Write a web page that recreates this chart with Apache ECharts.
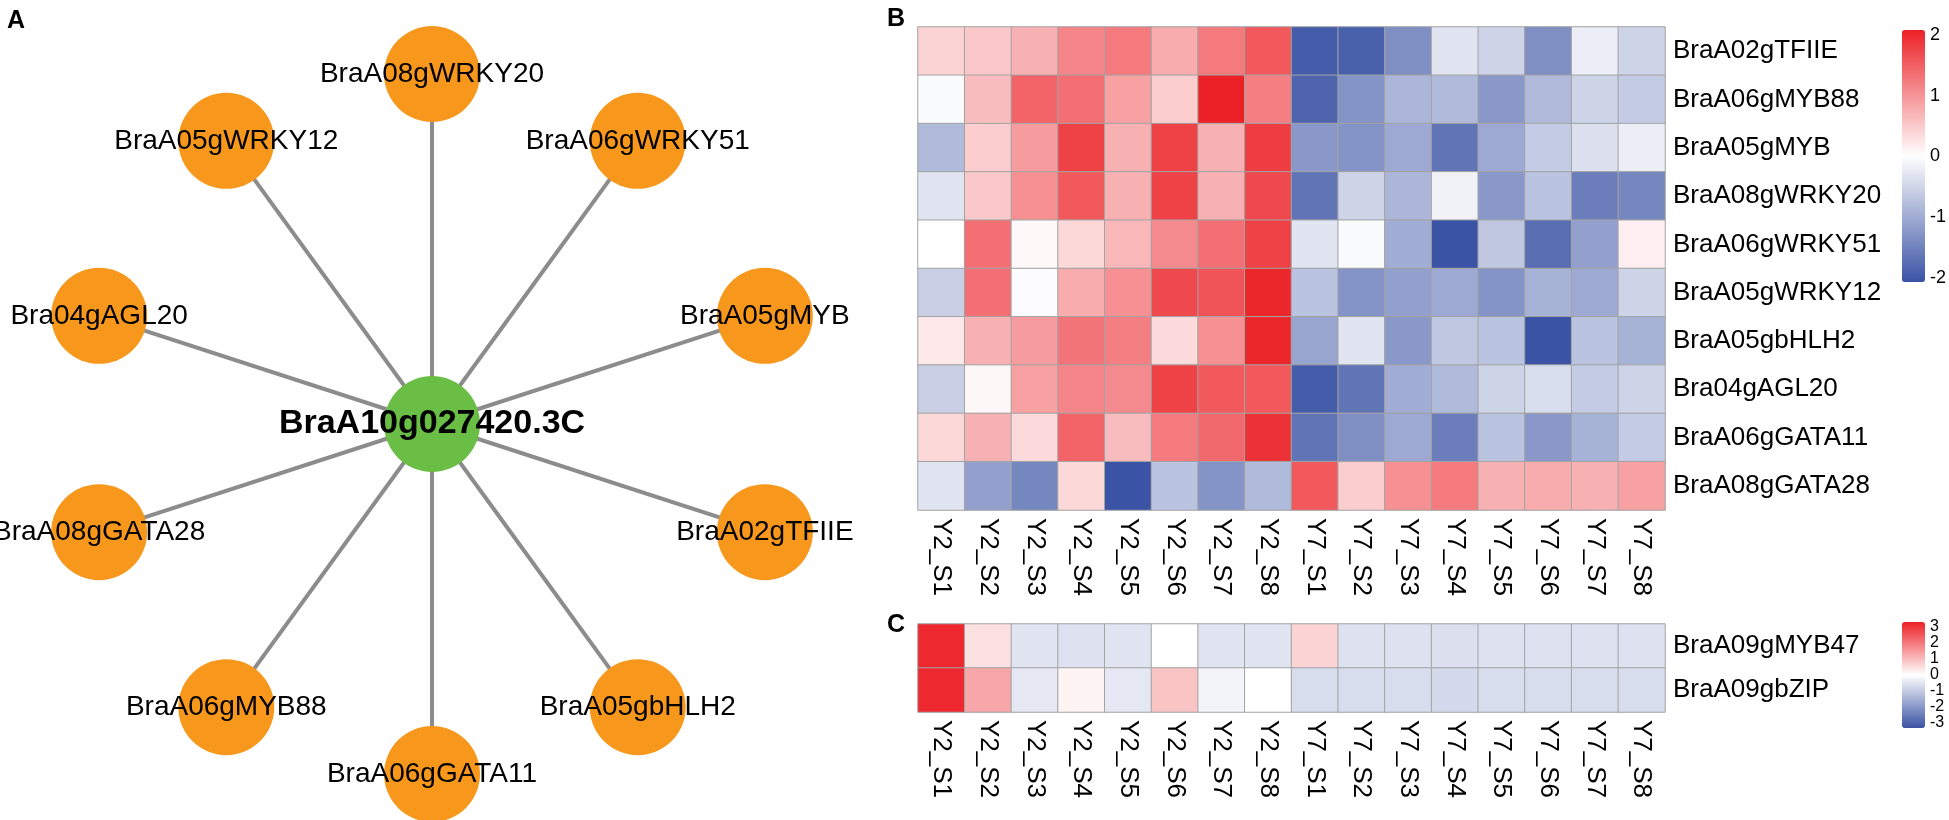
<!DOCTYPE html>
<html><head><meta charset="utf-8">
<script src="https://cdn.jsdelivr.net/npm/echarts@6/dist/echarts.min.js"></script>
<style>html,body{margin:0;padding:0;background:#fff}#c{width:1949px;height:820px}</style>
</head><body><div id="c"></div>
<script>
// ---------- Panel A: network ----------
const hubName = 'BraA10g027420.3C';
const leafNames = ['BraA08gWRKY20','BraA05gWRKY12','Bra04gAGL20','BraA08gGATA28','BraA06gMYB88','BraA06gGATA11','BraA05gbHLH2','BraA02gTFIIE','BraA05gMYB','BraA06gWRKY51'];
const leafAngles = [90,126,162,198,234,270,306,342,18,54];   // degrees, counter-clockwise from 3 o'clock
const leafRadius = [1,1,1,1,1,1,1,1,1,1];

// ---------- Panel B: heatmap ----------
const colLabels = ['Y2_S1','Y2_S2','Y2_S3','Y2_S4','Y2_S5','Y2_S6','Y2_S7','Y2_S8','Y7_S1','Y7_S2','Y7_S3','Y7_S4','Y7_S5','Y7_S6','Y7_S7','Y7_S8'];
const rowsB = ['BraA02gTFIIE','BraA06gMYB88','BraA05gMYB','BraA08gWRKY20','BraA06gWRKY51','BraA05gWRKY12','BraA05gbHLH2','Bra04gAGL20','BraA06gGATA11','BraA08gGATA28'];
const vTFIIE  = [0.40,0.50,0.70,1.10,1.20,0.75,1.20,1.50,-1.90,-1.85,-1.30,-0.30,-0.50,-1.30,-0.20,-0.50];
const vMYB88  = [-0.05,0.60,1.40,1.30,0.85,0.45,2.00,1.15,-1.80,-1.25,-0.85,-0.80,-1.20,-0.80,-0.50,-0.60];
const vMYB    = [-0.80,0.45,0.90,1.70,0.70,1.70,0.70,1.75,-1.20,-1.25,-1.00,-1.60,-1.00,-0.60,-0.35,-0.20];
const vWRKY20 = [-0.30,0.50,1.00,1.50,0.70,1.70,0.70,1.65,-1.60,-0.50,-0.85,-0.15,-1.20,-0.70,-1.50,-1.40];
const vWRKY51 = [0.00,1.30,0.05,0.35,0.65,1.05,1.30,1.70,-0.30,-0.05,-0.95,-2.00,-0.65,-1.70,-1.10,0.15];
const vWRKY12 = [-0.55,1.30,-0.03,0.75,1.00,1.65,1.55,1.95,-0.70,-1.25,-1.10,-1.00,-1.25,-0.90,-1.00,-0.50];
const vbHLH2  = [0.20,0.70,0.90,1.25,1.15,0.32,1.00,1.95,-1.05,-0.30,-1.20,-0.65,-0.70,-2.00,-0.70,-0.90];
const vAGL20  = [-0.55,0.07,0.85,1.10,1.05,1.70,1.50,1.50,-1.90,-1.60,-0.95,-0.80,-0.50,-0.40,-0.60,-0.50];
const vGATA11 = [0.35,0.70,0.33,1.40,0.60,1.20,1.35,1.85,-1.60,-1.30,-1.00,-1.50,-0.70,-1.20,-0.90,-0.60];
const vGATA28 = [-0.30,-1.10,-1.40,0.35,-2.00,-0.70,-1.25,-0.80,1.50,0.45,1.00,1.20,0.70,0.75,0.70,0.85];
const valuesB = [vTFIIE,vMYB88,vMYB,vWRKY20,vWRKY51,vWRKY12,vbHLH2,vAGL20,vGATA11,vGATA28];

// ---------- Panel C: heatmap ----------
const rowsC = ['BraA09gMYB47','BraA09gbZIP'];
const vMYB47 = [2.90,0.40,-0.45,-0.50,-0.45,0.00,-0.45,-0.45,0.60,-0.50,-0.50,-0.55,-0.50,-0.50,-0.50,-0.50];
const vbZIP  = [2.90,1.20,-0.40,0.15,-0.40,0.80,-0.20,0.00,-0.60,-0.60,-0.60,-0.65,-0.60,-0.60,-0.60,-0.60];
const valuesC = [vMYB47, vbZIP];

// colour-bar tick settings
const ticksB = {min:-2, max:2, interval:1};
const ticksC = {min:-3, max:3, interval:1};

const FONT = "'Liberation Sans', Arial, Helvetica, sans-serif";
const BLUE = '#3A53A4', WHITE = '#FFFFFF', RED = '#EC2127';

function cells(vals){
  const out = [];
  vals.forEach((row, r) => row.forEach((v, c) => out.push([c, r, v])));
  return out;
}

const nodes = [{name: hubName, value: [0, 0], symbolSize: 96,
  itemStyle: {color: '#6ABD45'},
  label: {fontSize: 34, fontWeight: 'bold'}}];
leafNames.forEach((n, i) => nodes.push({name: n, value: [leafRadius[i], leafAngles[i]], symbolSize: 96,
  itemStyle: {color: '#F7981D'}}));
const links = leafNames.map(n => ({source: hubName, target: n}));

const chart = echarts.init(document.getElementById('c'), null, {renderer: 'canvas'});
chart.setOption({
  animation: false,
  backgroundColor: '#fff',
  textStyle: {fontFamily: FONT},
  title: [
    {text: 'A', left: 2, top: 4, textStyle: {fontSize: 25, fontWeight: 'bold', color: '#000', fontFamily: FONT}},
    {text: 'B', left: 882, top: 2, textStyle: {fontSize: 25, fontWeight: 'bold', color: '#000', fontFamily: FONT}},
    {text: 'C', left: 882, top: 608, textStyle: {fontSize: 25, fontWeight: 'bold', color: '#000', fontFamily: FONT}}
  ],
  polar: {center: [432, 424], radius: 350},
  angleAxis: {type: 'value', min: 0, max: 360, startAngle: 0, clockwise: false, show: false},
  radiusAxis: {type: 'value', min: 0, max: 1, show: false},
  grid: [
    {left: 918, top: 27, width: 747, height: 483},
    {left: 918, top: 624, width: 747, height: 88},
    {left: 1902, top: 627, width: 23, height: 96},
    {left: 1902, top: 35, width: 23, height: 243}
  ],
  xAxis: [
    {type: 'category', gridIndex: 0, data: colLabels, position: 'bottom',
     axisLine: {show: false}, axisTick: {show: false}, splitLine: {show: false},
     axisLabel: {rotate: -90, fontSize: 26, color: '#000', margin: 8, interval: 0, fontFamily: FONT}},
    {type: 'category', gridIndex: 1, data: colLabels, position: 'bottom',
     axisLine: {show: false}, axisTick: {show: false}, splitLine: {show: false},
     axisLabel: {rotate: -90, fontSize: 26, color: '#000', margin: 8, interval: 0, fontFamily: FONT}},
    {type: 'value', gridIndex: 2, show: false},
    {type: 'value', gridIndex: 3, show: false}
  ],
  yAxis: [
    {type: 'category', gridIndex: 0, data: rowsB, inverse: true, position: 'right',
     axisLine: {show: false}, axisTick: {show: false}, splitLine: {show: false},
     axisLabel: {fontSize: 26, color: '#000', margin: 8, interval: 0, fontFamily: FONT}},
    {type: 'category', gridIndex: 1, data: rowsC, inverse: true, position: 'right',
     axisLine: {show: false}, axisTick: {show: false}, splitLine: {show: false},
     axisLabel: {fontSize: 26, color: '#000', margin: 8, interval: 0, fontFamily: FONT}},
    {type: 'value', gridIndex: 2, position: 'right', min: ticksC.min, max: ticksC.max, interval: ticksC.interval,
     axisLine: {show: false}, axisTick: {show: false}, splitLine: {show: false},
     axisLabel: {fontSize: 16, color: '#000', margin: 5, fontFamily: FONT, showMinLabel: true, showMaxLabel: true, hideOverlap: false}},
    {type: 'value', gridIndex: 3, position: 'right', min: ticksB.min, max: ticksB.max, interval: ticksB.interval,
     axisLine: {show: false}, axisTick: {show: false}, splitLine: {show: false},
     axisLabel: {fontSize: 18, color: '#000', margin: 5, fontFamily: FONT, showMinLabel: true, showMaxLabel: true}}
  ],
  visualMap: [
    {type: 'continuous', seriesIndex: 1, min: ticksB.min, max: ticksB.max, orient: 'vertical',
     left: 1902, top: 30, itemWidth: 23, itemHeight: 252, padding: 0, calculable: false, text: null,
     showLabel: false, inRange: {color: [BLUE, WHITE, RED]}},
    {type: 'continuous', seriesIndex: 2, min: ticksC.min, max: ticksC.max, orient: 'vertical',
     left: 1902, top: 622, itemWidth: 23, itemHeight: 106, padding: 0, calculable: false, text: null,
     showLabel: false, inRange: {color: [BLUE, WHITE, RED]}}
  ],
  series: [
    {type: 'graph', coordinateSystem: 'polar', polarIndex: 0, symbol: 'circle',
     data: nodes, links: links, silent: true, z: 5,
     lineStyle: {color: '#8C8C8C', width: 4, opacity: 1, curveness: 0},
     label: {show: true, position: 'inside', color: '#000', fontSize: 28, fontFamily: FONT},
     emphasis: {disabled: true}},
    {type: 'heatmap', xAxisIndex: 0, yAxisIndex: 0, data: cells(valuesB), silent: true,
     itemStyle: {borderColor: '#A3A3A3', borderWidth: 1}},
    {type: 'heatmap', xAxisIndex: 1, yAxisIndex: 1, data: cells(valuesC), silent: true,
     itemStyle: {borderColor: '#A3A3A3', borderWidth: 1}}
  ]
});
</script></body></html>
